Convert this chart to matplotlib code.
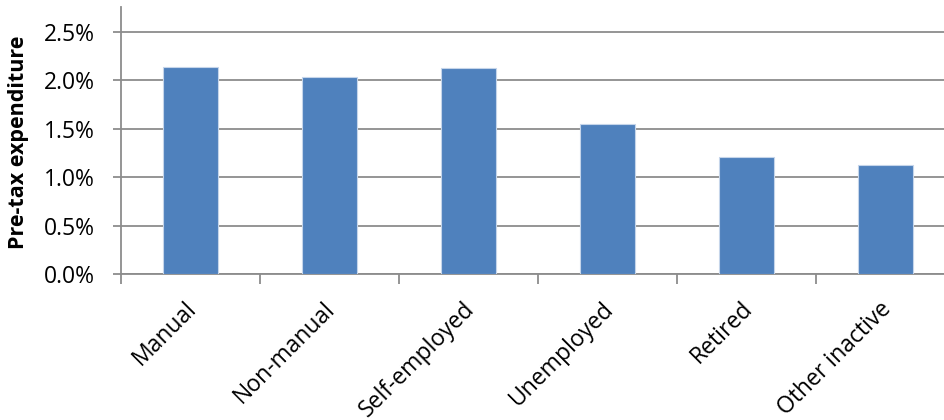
import matplotlib
matplotlib.use("Agg")
import matplotlib.pyplot as plt
from matplotlib.ticker import FuncFormatter, FixedLocator
import matplotlib.transforms as mtransforms

categories = ["Manual", "Non-manual", "Self-employed", "Unemployed", "Retired", "Other inactive"]
values = [2.13, 2.03, 2.12, 1.55, 1.21, 1.12]
yticks = [0.0, 0.5, 1.0, 1.5, 2.0, 2.5]

plt.rcParams["font.family"] = ["Open Sans", "DejaVu Sans"]

W, H = 945, 420
fig = plt.figure(figsize=(W / 100, H / 100), dpi=100)
left, right, bottom, top = 121, 945, 274, 7
ax = fig.add_axes([left / W, 1 - bottom / H, (right - left) / W, (bottom - top) / H])

grid_c = "#8c8c8c"
x = list(range(len(categories)))
ax.bar(x, values, width=0.40, color="#4F81BD", edgecolor="#c5d5ea", linewidth=0.8, zorder=3)

ax.set_xlim(-0.5, -0.5 + (right - left) / 139.0)
ax.set_ylim(0, 2.753)

ax.yaxis.set_major_locator(FixedLocator(yticks))
ax.yaxis.set_major_formatter(FuncFormatter(lambda v, p: f"{v:.1f}%"))
ax.grid(axis="y", color=grid_c, linewidth=1.3, zorder=0)

ax.xaxis.set_major_locator(FixedLocator([i - 0.5 for i in range(len(categories) + 1)]))
ax.set_xticklabels([])
for s in ["top", "right"]:
    ax.spines[s].set_visible(False)
for s in ["left", "bottom"]:
    ax.spines[s].set_color(grid_c)
    ax.spines[s].set_linewidth(1.3)
ax.tick_params(axis="x", length=7, width=1.3, color=grid_c, direction="out")
ax.tick_params(axis="y", length=6, width=1.3, color=grid_c, direction="out", labelsize=16.5, pad=13)

offset = mtransforms.ScaledTranslation(-6 / 100, -23 / 100, fig.dpi_scale_trans)
for i, name in enumerate(categories):
    ax.text(i, 0, name, rotation=45, ha="right", va="top", rotation_mode="anchor",
            fontsize=16.5, transform=ax.get_xaxis_transform() + offset)

ax.set_ylabel("Pre-tax expenditure", fontsize=15.5, fontweight="bold")
ax.yaxis.set_label_coords(-(121 - 29) / (right - left), (274 - 142) / (bottom - top))

fig.savefig("out.png", dpi=100)
